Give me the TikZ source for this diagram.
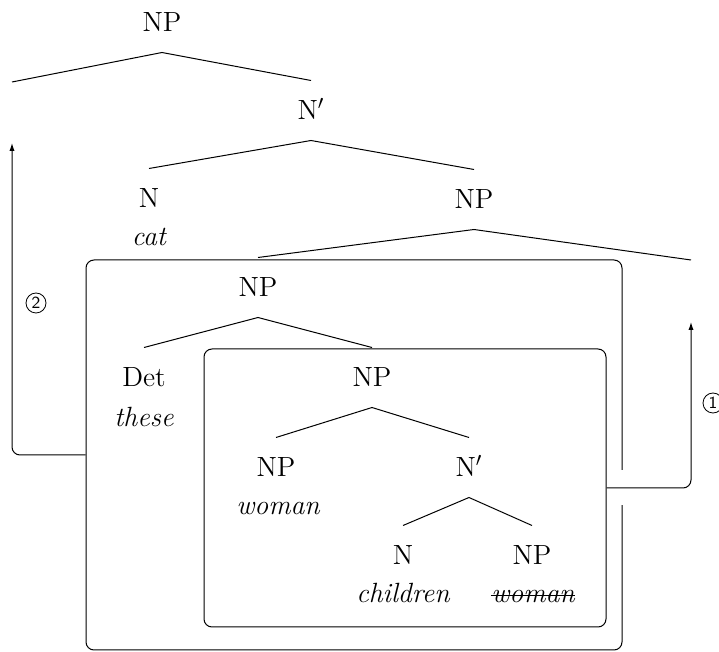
\documentclass[tikz,border=0pt]{standalone}
\usepackage{fontspec}
\usetikzlibrary{arrows.meta}
\begin{document}
\begin{tikzpicture}[x=0.5pt,y=-0.5pt,line width=0.5pt,
  every node/.style={font=\fontsize{13.9}{16}\selectfont},
  lab/.style={anchor=base,text height=9.5pt,text depth=0pt,inner ysep=10pt,inner xsep=0pt},
  word/.style={anchor=base,inner sep=0pt,font=\fontsize{13.9}{16}\selectfont\itshape},
  phrasebox/.style={draw,rounded corners=4pt,inner sep=0pt},
  move/.style={-{Latex[length=4pt,width=2.6pt]},rounded corners=4pt},
  circ/.style={draw,circle,line width=0.4pt,minimum size=10pt,inner sep=0pt,font=\sffamily\fontsize{8.5}{9}\selectfont}]
\useasboundingbox (0,0) rectangle (719,652);
% boxes
\node[phrasebox,minimum width=268pt,minimum height=195pt] (outer) at (354,455) {};
\node[phrasebox,minimum width=201pt,minimum height=139pt] (inner) at (405,488) {};
\fill[white] (617,470) rectangle (627,505);
% tree nodes
\node[lab] (np1) at (162,32) {NP};
\node[lab] (nb1) at (311,120) {N$'$};
\node[lab] (n2) at (149,208) {N};
\node[word] (cat) at (149,246) {cat};
\node[lab] (np2) at (474,209) {NP};
\node[lab] (np3) at (258,297) {NP};
\node[lab] (det) at (144,387) {Det};
\node[word] (these) at (144,427) {these};
\node[lab] (np4) at (372,387) {NP};
\node[lab] (np5) at (276,477) {NP};
\node[word] (woman) at (278,515) {woman};
\node[lab] (nb2) at (469,477) {N$'$};
\node[lab] (n4) at (403,565) {N};
\node[word] (children) at (403,603) {children};
\node[lab] (np6) at (532,565) {NP};
\node[word] (woman2) at (533,603) {woman};
\draw ([yshift=3.8pt]woman2.base west) -- ([yshift=3.8pt]woman2.base east);
% empty positions
\coordinate (e1) at (12,82);
\coordinate (e2) at (691,260);
% branches
\draw (e1) -- (np1.south) -- (nb1.north);
\draw (n2.north) -- (nb1.south) -- (np2.north);
\draw (np3.north) -- (np2.south) -- (e2);
\draw (det.north) -- (np3.south) -- (np4.north);
\draw (np5.north) -- (np4.south) -- (nb2.north);
\draw (n4.north) -- (nb2.south) -- (np6.north);
% movement arrows
\coordinate (t1) at (691,322);
\coordinate (t2) at (12,143);
\draw[move] (inner.east) -| (t1);
\draw[move] (outer.west) -| (t2);
\node[circ] (c1) at (713,403) {1};
\node[circ] (c2) at (36,303) {2};
\end{tikzpicture}
\end{document}
